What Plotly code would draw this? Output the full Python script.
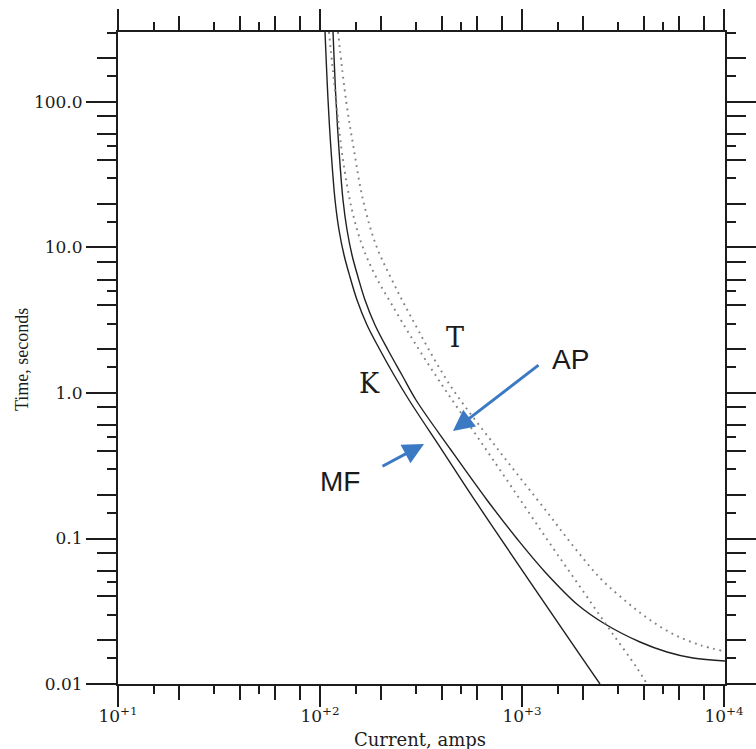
import numpy as np
import plotly.graph_objects as go

# Time-current characteristics (current in amps, time in seconds)
k_current = [105.9, 109.6, 113.4, 118.7, 124.2, 131.5, 140.8, 152.5, 170.9,
             198.2, 232.4, 275.9, 401.8, 605.5, 2433]
k_time = [302.8, 103.2, 46.79, 21.2, 13.19, 8.882, 6.271, 4.36, 2.934,
          1.975, 1.329, 0.895, 0.4056, 0.170, 0.01]

mf_current = [116.0, 120.0, 124.2, 130.0, 136.1, 144.0, 154.2, 167.0, 187.2,
              217.1, 254.6, 298.7, 445.1, 671.0, 955.4, 1300, 1893, 2576,
              3839, 5222, 7022, 10116]
mf_time = [302.8, 103.2, 46.79, 21.2, 13.19, 8.882, 6.271, 4.36, 2.934,
           1.975, 1.329, 0.895, 0.4056, 0.184, 0.0977, 0.0589, 0.0349, 0.02585,
           0.01944, 0.0166, 0.01509, 0.01439]

t_min_current = [110.8, 120.0, 130.0, 144.0, 161.4, 187.2, 227.2, 288.6, 392.7,
                 552.7, 778.3, 1424, 2004, 2727, 3710, 4157]
t_min_time = [302.8, 103.2, 39.94, 18.10, 10.40, 6.47, 4.03, 2.314, 1.190,
              0.5932, 0.296, 0.086, 0.04356, 0.0235, 0.01288, 0.01]

t_max_current = [122.8, 134.5, 147.3, 163.3, 189.3, 227.2, 279.0, 440.0, 778.3,
                 1330, 1809, 2461, 3348, 4302, 5720, 7606, 9886]
t_max_time = [302.8, 103.2, 46.79, 21.2, 10.40, 5.977, 3.436, 1.135, 0.393,
              0.1521, 0.0874, 0.05267, 0.03602, 0.02754, 0.02172, 0.01854, 0.01686]

x_ticks = [10, 100, 1000, 10000]
x_tick_text = ["10<sup>+1</sup>", "10<sup>+2</sup>", "10<sup>+3</sup>", "10<sup>+4</sup>"]
y_ticks = [0.01, 0.1, 1, 10, 100]
y_tick_text = ["0.01", "0.1", "1.0", "10.0", "100.0"]

X_RANGE = [1, 4.005]
Y_RANGE = [-2, 2.481]

INK = "#1c1c1c"
ARROW = "#3b79c3"
SERIF = "DejaVu Serif"


def decade_ticks(lo, hi, digits):
    vals = []
    for e in range(lo, hi):
        for d in digits:
            vals.append(d * 10 ** e)
    return vals


fig = go.Figure()

solid = dict(color="#202020", width=1.4, shape="spline", smoothing=1.0)
dotted = dict(color="#808080", width=1.9, dash="1.8px,4.6px", shape="spline", smoothing=1.0)

fig.add_trace(go.Scatter(x=k_current, y=k_time, mode="lines", line=solid, name="K"))
fig.add_trace(go.Scatter(x=mf_current, y=mf_time, mode="lines", line=solid, name="MF"))
fig.add_trace(go.Scatter(x=t_min_current, y=t_min_time, mode="lines", line=dotted, name="T min"))
fig.add_trace(go.Scatter(x=t_max_current, y=t_max_time, mode="lines", line=dotted, name="T max"))

axis_common = dict(
    type="log",
    showgrid=False,
    zeroline=False,
    showline=True,
    linecolor=INK,
    linewidth=2,
    ticks="outside",
    tickcolor=INK,
    tickwidth=2,
    mirror="allticks",
    automargin=False,
)

fig.update_layout(
    width=756,
    height=749,
    margin=dict(l=118, r=31, t=32, b=65),
    paper_bgcolor="white",
    plot_bgcolor="white",
    showlegend=False,
    xaxis=dict(
        **axis_common,
        range=X_RANGE,
        tickmode="array",
        tickvals=x_ticks,
        ticktext=x_tick_text,
        ticklen=21,
        ticklabelstandoff=-5,
        tickfont=dict(family=SERIF, size=17, color=INK),
        minor=dict(ticks="outside", ticklen=8, tickwidth=2, tickcolor=INK,
                   tickmode="array", tickvals=decade_ticks(1, 4, [1.5, 3, 5])),
    ),
    yaxis=dict(
        **axis_common,
        range=Y_RANGE,
        tickmode="array",
        tickvals=y_ticks,
        ticktext=y_tick_text,
        ticklen=30,
        tickfont=dict(family=SERIF, size=17, color=INK),
        minor=dict(ticks="outside", ticklen=9, tickwidth=2, tickcolor=INK,
                   tickmode="array", tickvals=decade_ticks(-2, 3, [1.5, 3, 5])),
    ),
    # second set of unlabeled axes carrying the medium-length minor ticks
    xaxis2=dict(
        **axis_common,
        range=X_RANGE,
        overlaying="x",
        anchor="y",
        side="bottom",
        tickmode="array",
        tickvals=decade_ticks(1, 4, [2, 4, 6, 8]),
        showticklabels=False,
        ticklen=14,
    ),
    yaxis2=dict(
        **axis_common,
        range=Y_RANGE,
        overlaying="y",
        anchor="x",
        side="left",
        tickmode="array",
        tickvals=decade_ticks(-2, 3, [2, 4, 6, 8]),
        showticklabels=False,
        ticklen=19,
    ),
)

# invisible carrier so the secondary axes are drawn
fig.add_trace(go.Scatter(x=[], y=[], xaxis="x2", yaxis="y2", hoverinfo="skip"))

annotations = [
    dict(text="Current, amps", xref="paper", yref="paper", x=0.4975, y=-0.0844,
         showarrow=False, font=dict(family=SERIF, size=18, color=INK),
         xanchor="center", yanchor="middle"),
    dict(text="Time, seconds", xref="paper", yref="paper", x=-0.158, y=0.497,
         showarrow=False, textangle=-90, font=dict(family="Liberation Serif", size=18, color=INK),
         xanchor="center", yanchor="middle"),
    dict(text="T", x=np.log10(465.9), y=np.log10(2.39), showarrow=False,
         font=dict(family=SERIF, size=27, color=INK), xanchor="center", yanchor="middle"),
    dict(text="K", x=np.log10(176.8), y=np.log10(1.171), showarrow=False,
         font=dict(family=SERIF, size=27, color=INK), xanchor="center", yanchor="middle"),
    dict(text="AP", x=np.log10(1748), y=np.log10(1.686), showarrow=False,
         font=dict(family="Liberation Sans", size=28, color="#1a1a1a"),
         xanchor="center", yanchor="middle"),
    dict(text="MF", x=np.log10(125.6), y=np.log10(0.2484), showarrow=False,
         font=dict(family="Liberation Sans", size=28, color="#1a1a1a"),
         xanchor="center", yanchor="middle"),
    dict(text="", x=np.log10(455.3), y=np.log10(0.548),
         ax=np.log10(1228), ay=np.log10(1.582), axref="x", ayref="y",
         showarrow=True, arrowhead=2, arrowsize=1.4, arrowwidth=3, arrowcolor=ARROW),
    dict(text="", x=np.log10(327.3), y=np.log10(0.446),
         ax=np.log10(200.4), ay=np.log10(0.310), axref="x", ayref="y",
         showarrow=True, arrowhead=2, arrowsize=1.4, arrowwidth=3, arrowcolor=ARROW),
]
fig.update_layout(annotations=annotations)

fig.write_html("out.html")
